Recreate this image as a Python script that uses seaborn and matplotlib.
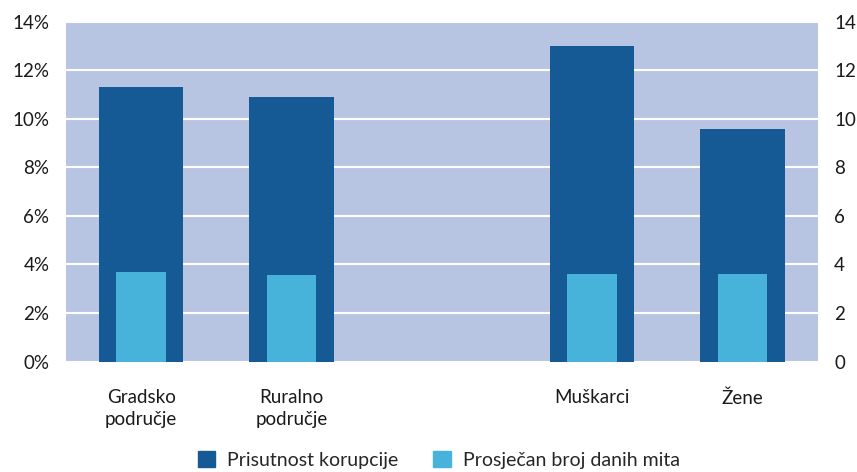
import matplotlib.pyplot as plt
import matplotlib.ticker as mticker
from matplotlib.patches import Patch
import pandas as pd
import seaborn as sns

# Data
categories = ["Gradsko\npodručje", "Ruralno\npodručje", " ", "Muškarci", "Žene"]
present_cats = ["Gradsko\npodručje", "Ruralno\npodručje", "Muškarci", "Žene"]
corruption_pct = [11.3, 10.9, 13.0, 9.6]      # Prisutnost korupcije (left axis, %)
bribe_days = [3.7, 3.55, 3.62, 3.62]          # Prosječan broj danih mita (right axis)

DARK = "#155a94"
LIGHT = "#47b3db"
BG = "#b8c5e2"
TXT = "#1a1a1a"

sns.set_theme(style="white")
plt.rcParams["font.family"] = ["Lato", "DejaVu Sans"]

df = pd.DataFrame({"cat": present_cats, "pct": corruption_pct, "days": bribe_days})

fig = plt.figure(figsize=(8.57, 4.72), dpi=100)
ax = fig.add_axes([0.077, 0.234, 0.877, 0.72])
ax2 = ax.twinx()

sns.barplot(data=df, x="cat", y="pct", order=categories, color=DARK,
            width=0.56, saturation=1, linewidth=0, ax=ax)
sns.barplot(data=df, x="cat", y="days", order=categories, color=LIGHT,
            width=0.33, saturation=1, linewidth=0, ax=ax2)

ax.set_facecolor(BG)
ax2.patch.set_visible(False)
for a in (ax, ax2):
    a.set_ylim(0, 14)
    a.set_yticks(range(0, 15, 2))
    a.set_xlabel("")
    a.set_ylabel("")
    for s in a.spines.values():
        s.set_visible(False)
    a.tick_params(length=0, labelsize=13.5, colors=TXT)

ax.set_axisbelow(True)
ax.yaxis.grid(True, color="white", linewidth=1.5)
ax.yaxis.set_major_formatter(mticker.FuncFormatter(lambda v, _: f"{v:.0f}%"))
ax.tick_params(axis="y", pad=12)
ax2.tick_params(axis="y", pad=12)
ax.tick_params(axis="x", pad=20)
ax.set_xticks(range(len(categories)))
ax.set_xticklabels(categories, linespacing=1.3)

handles = [Patch(color=DARK, label="Prisutnost korupcije"),
           Patch(color=LIGHT, label="Prosječan broj danih mita")]
fig.legend(handles=handles, loc="lower center", ncol=2, frameon=False,
           fontsize=14, handlelength=0.9, handleheight=0.9,
           columnspacing=1.8, handletextpad=0.6,
           bbox_to_anchor=(0.512, -0.03))

fig.savefig("out.png", dpi=100)
